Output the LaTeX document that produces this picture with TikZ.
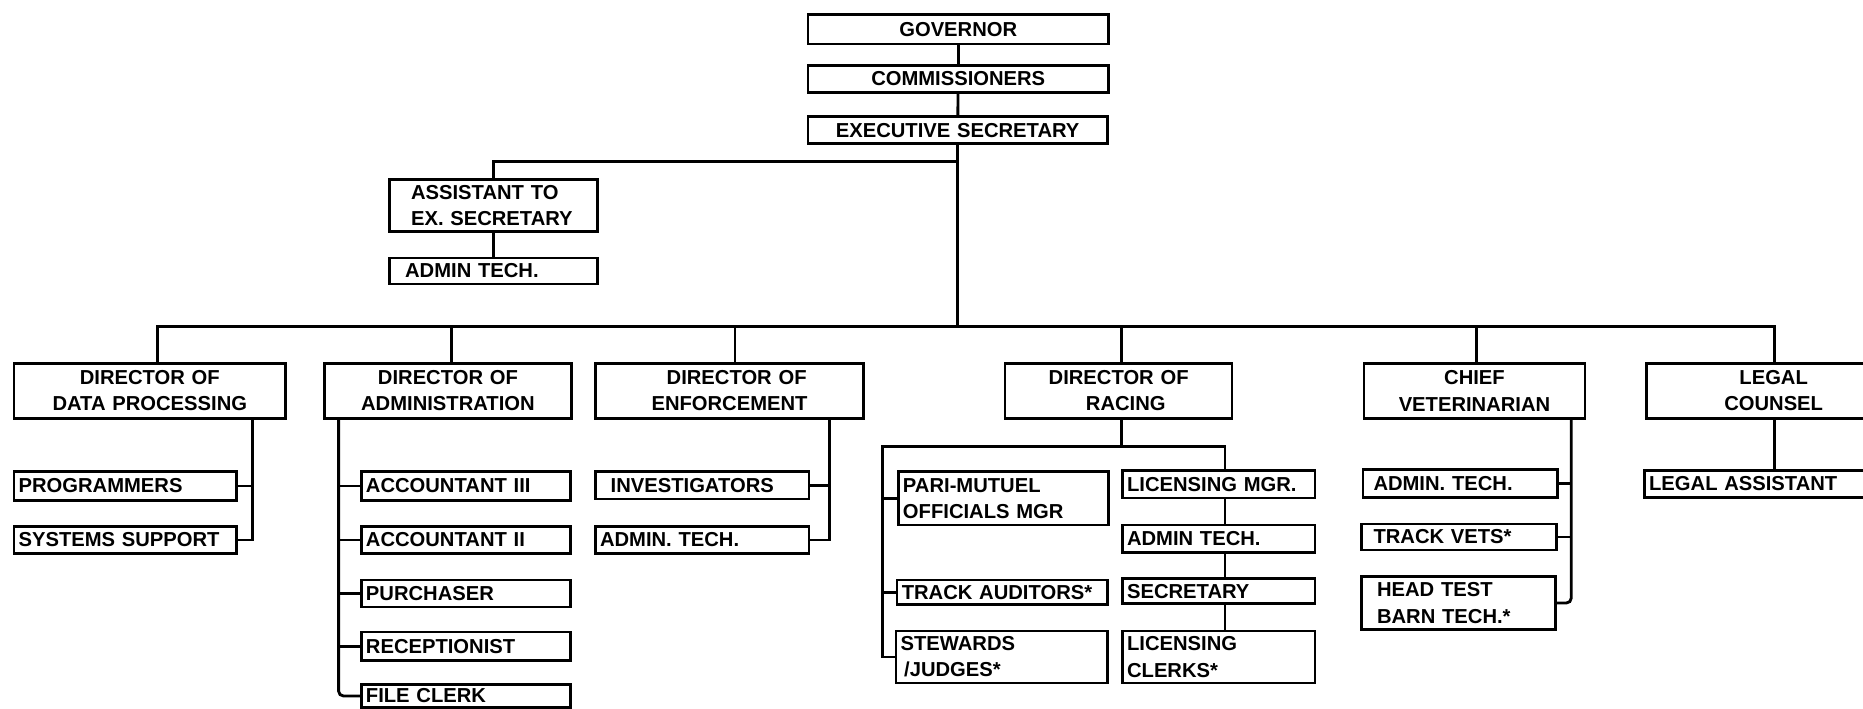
\documentclass[tikz,border=0pt]{standalone}
\usepackage{fontspec}
\setmainfont{Liberation Sans}
\usetikzlibrary{calc}
\tikzset{
  obox/.style={draw, line width=2.2pt, inner xsep=4pt, inner ysep=0pt,
    font=\fontsize{17}{22}\selectfont\bfseries},
  conn/.style={line width=2.4pt},
}
\newcommand\ob[7]{%
  \pgfmathsetmacro\obW{#4-#2}%
  \pgfmathsetmacro\obH{#5-#3}%
  \pgfmathsetmacro\obT{#4-#2-8}%
  \pgfmathsetmacro\obX{(#2+#4)/2}%
  \pgfmathsetmacro\obY{(#3+#5)/2}%
  \node[obox, minimum width=\obW pt, minimum height=\obH pt, text width=\obT pt, align=#6] (#1) at (\obX,\obY) {#7};}
\begin{document}
\begin{tikzpicture}[x=1pt,y=-1pt]
\useasboundingbox (0,0) rectangle (1568,596.7);
\fill[white] (0,0) rectangle (1568,596.7);
% top
\ob{gov}{680}{12}{933}{37}{center}{GOVERNOR}
\ob{com}{680}{55}{933}{78}{center}{COMMISSIONERS}
\ob{exe}{680}{98}{932}{121}{center}{EXECUTIVE SECRETARY}
\ob{asst}{328}{151}{503}{195}{left}{\hspace*{14pt}ASSISTANT TO\\\hspace*{14pt}EX. SECRETARY}
\ob{atech}{328}{217}{503}{239}{left}{\hspace*{9pt}ADMIN TECH.}
% directors
\ob{dp}{11.7}{306}{240.5}{352}{center}{DIRECTOR OF\\DATA PROCESSING}
\ob{adm}{273}{306}{481}{352}{center}{DIRECTOR OF\\ADMINISTRATION}
\ob{enf}{501}{306}{727}{352}{center}{\hspace*{12pt}DIRECTOR OF\\ENFORCEMENT}
\ob{rac}{846}{306}{1037}{352}{center}{DIRECTOR OF\\\hspace*{12pt}RACING}
\ob{chf}{1148}{306}{1334}{352}{center}{CHIEF\\VETERINARIAN}
\ob{leg}{1385.6}{306}{1600}{352}{center}{LEGAL\\COUNSEL}
% data processing
\ob{prog}{11.7}{397}{199}{421}{left}{PROGRAMMERS}
\ob{sys}{11.7}{443}{199}{466}{left}{SYSTEMS SUPPORT}
% administration
\ob{ac3}{304}{397}{480}{421}{left}{ACCOUNTANT III}
\ob{ac2}{304}{443}{480}{466}{left}{ACCOUNTANT II}
\ob{pur}{304}{488}{480}{511}{left}{PURCHASER}
\ob{rec}{304}{532}{480}{556}{left}{RECEPTIONIST}
\ob{fil}{304}{576}{480}{595.5}{left}{FILE CLERK}
% enforcement
\ob{inv}{501}{397}{681}{420}{left}{\hspace*{9pt}INVESTIGATORS}
\ob{eat}{501}{443}{681}{466}{left}{ADMIN. TECH.}
% racing
\ob{pari}{756}{397}{933}{442}{left}{PARI-MUTUEL\\OFFICIALS MGR}
\ob{tra}{755}{488}{932}{509}{left}{TRACK AUDITORS*}
\ob{ste}{754}{531}{932}{575}{left}{STEWARDS\\\hspace*{3pt}/JUDGES*}
\ob{lmgr}{944.6}{396}{1106.8}{419}{left}{LICENSING MGR.}
\ob{rat}{944.6}{442}{1106.8}{465}{left}{ADMIN TECH.}
\ob{sec}{944.6}{487}{1106.8}{508}{left}{SECRETARY}
\ob{lcl}{944.6}{531}{1106.8}{575}{left}{LICENSING\\CLERKS*}
% veterinarian
\ob{cat}{1147}{395}{1311}{418.5}{left}{\hspace*{5pt}ADMIN. TECH.}
\ob{tvt}{1146}{441}{1310}{463}{left}{\hspace*{6pt}TRACK VETS*}
\ob{hdt}{1146}{485}{1309}{530}{left}{\hspace*{9pt}HEAD TEST\\\hspace*{9pt}BARN TECH.*}
% legal
\ob{lat}{1384}{396}{1600}{418.5}{left}{LEGAL ASSISTANT}
% coordinates
\coordinate (brY) at (0,136);
\coordinate (bDP) at (132.6,275);
\coordinate (bAD) at (380,275);
\coordinate (bEN) at (618.6,275);
\coordinate (bRA) at (943.6,275);
\coordinate (bCH) at (1242.5,275);
\coordinate (bLG) at (1493.6,275);
\coordinate (dpR) at (212.6,0);
\coordinate (admL) at (285,0);
\coordinate (enfR) at (698.3,0);
\coordinate (rL) at (743,376);
\coordinate (rR) at (1031,376);
\coordinate (cR) at (1322.4,0);
% connectors top
\draw[conn] (gov) -- (com);
\draw[conn] (com) -- (exe);
\draw[conn] (exe.south) -- (exe.south |- bDP);
\draw[conn] (exe.south |- brY) -| (asst.north);
\draw[conn] (asst) -- (atech);
% bus
\draw[conn] (bDP |- dp.north) -- (bDP) -- (bLG) -- (bLG |- leg.north);
\draw[conn] (bAD) -- (bAD |- adm.north);
\draw[conn] (bEN) -- (bEN |- enf.north);
\draw[conn] (bRA) -- (bRA |- rac.north);
\draw[conn] (bCH) -- (bCH |- chf.north);
% data processing
\draw[conn] (dp.south -| dpR) |- (sys.east);
\draw[conn] (prog.east) -- (prog.east -| dpR);
% administration
\draw[conn, rounded corners=4pt] (adm.south -| admL) |- (fil.west);
\draw[conn] (ac3.west) -- (ac3.west -| admL);
\draw[conn] (ac2.west) -- (ac2.west -| admL);
\draw[conn] (pur.west) -- (pur.west -| admL);
\draw[conn] (rec.west) -- (rec.west -| admL);
% enforcement
\draw[conn] (enf.south -| enfR) |- (eat.east);
\draw[conn] (inv.east) -- (inv.east -| enfR);
% racing
\draw[conn] (rac.south -| bRA) -- (bRA |- rL);
\draw[conn] (ste.west) -| (rL) -- (rR) -- (rR |- lmgr.north);
\draw[conn] (pari.west) -- (pari.west -| rL);
\draw[conn] (tra.west) -- (tra.west -| rL);
\draw[conn] (lmgr.south -| rR) -- (rat.north -| rR);
\draw[conn] (rat.south -| rR) -- (sec.north -| rR);
\draw[conn] (sec.south -| rR) -- (lcl.north -| rR);
% veterinarian
\draw[conn, rounded corners=4pt] (chf.south -| cR) |- (hdt.east);
\draw[conn] (cat.east) -- (cat.east -| cR);
\draw[conn] (tvt.east) -- (tvt.east -| cR);
% legal
\draw[conn] (leg.south -| bLG) -- (lat.north -| bLG);
\end{tikzpicture}
\end{document}
